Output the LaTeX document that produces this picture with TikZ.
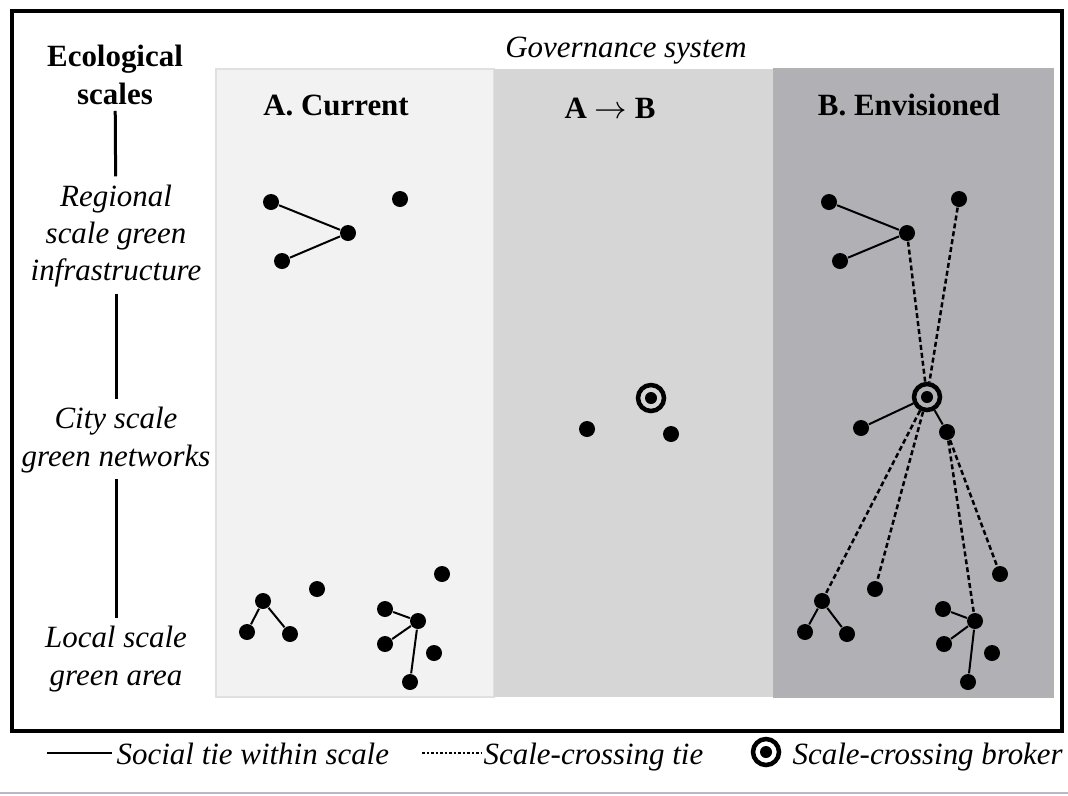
\documentclass[tikz,border=0pt]{standalone}
\usepackage{fontspec}
\setmainfont{Liberation Serif}
\usetikzlibrary{math}
\definecolor{paneA}{HTML}{F2F2F2}
\definecolor{paneAB}{HTML}{D6D6D6}
\definecolor{paneB}{HTML}{B1B1B5}
\definecolor{rulegray}{HTML}{B8B8CC}
\tikzset{
  actor/.style={circle, fill=black, inner sep=0pt, minimum size=1.6mm},
  broker/.style={circle, draw=black, line width=0.45mm, inner sep=0pt, minimum size=2.6mm,
    path picture={\fill[black] (path picture bounding box.center) circle (0.6mm);}},
  tie/.style={line width=0.2mm},
  crosstie/.style={line width=0.25mm, dash pattern=on 0.5mm off 0.3mm},
  scaletitle/.style={font=\fontsize{8.8pt}{10.6pt}\selectfont\bfseries, align=center},
  scalelabel/.style={font=\fontsize{8.8pt}{10.6pt}\selectfont\itshape, align=center},
  scaleline/.style={line width=0.3mm, shorten <=-0.6mm, shorten >=-0.4mm},
  paneltitle/.style={font=\fontsize{8.8pt}{10.6pt}\selectfont\bfseries, anchor=base},
  legendtext/.style={font=\fontsize{8.8pt}{11pt}\selectfont\itshape, anchor=base west, inner sep=0pt}
}
\begin{document}
\begin{tikzpicture}[x=0.1mm, y=-0.1mm]
  \tikzmath{\xa = 216; \xb = 494; \xc = 774; \xd = 1053; \ya = 69; \yb = 697;}
  \useasboundingbox (0,0) rectangle (1068,795);
  \fill[white] (0,0) rectangle (1068,795);
  \path[fill=paneA, draw=black!12] (\xa,\ya) rectangle (\xb,\yb);
  \path[fill=paneAB] (\xb,\ya) rectangle (\xc,\yb);
  \path[fill=paneB, draw=black!30, line width=0.12mm] (\xc,\ya) rectangle (\xd,\yb);
  \draw[line width=0.45mm] (12,11) rectangle (1062,731);

  \node[scalelabel, anchor=base] (gov) at (626,57) {Governance system};
  \node[paneltitle] (tcur) at (336,115) {A. Current};
  \node[paneltitle] (tmid) at (610,118) {A $\rightarrow$ B};
  \node[paneltitle] (tenv) at (909,115) {B. Envisioned};

  \node[scaletitle] (eco) at (115,75) {Ecological\\scales};
  \node[scalelabel] (regional) at (116,236) {Regional\\scale green\\infrastructure};
  \node[scalelabel] (city) at (116,440) {City scale\\green networks};
  \node[scalelabel] (local) at (116,659) {Local scale\\green area};
  \draw[scaleline] (eco) -- (regional);
  \draw[scaleline] (regional) -- (city);
  \draw[scaleline] (city) -- (local);

  \node[actor] (ar1) at (271,202) {};
  \node[actor] (ar2) at (348,233) {};
  \node[actor] (ar3) at (282,261) {};
  \node[actor] (ar4) at (400,199) {};
  \node[actor] (al1) at (263,601) {};
  \node[actor] (al2) at (247,632) {};
  \node[actor] (al3) at (290,634) {};
  \node[actor] (al4) at (317,589) {};
  \node[actor] (al5) at (442,574) {};
  \node[actor] (al6) at (385,609) {};
  \node[actor] (al7) at (418,621) {};
  \node[actor] (al8) at (385,644) {};
  \node[actor] (al9) at (434,653) {};
  \node[actor] (al10) at (410,682) {};
  \draw[tie] (ar1) -- (ar2) -- (ar3);
  \draw[tie] (al2) -- (al1) -- (al3);
  \draw[tie] (al6) -- (al7) -- (al8);
  \draw[tie] (al7) -- (al10);

  \node[broker] (mc1) at (651,398) {};
  \node[actor] (mc2) at (587,429) {};
  \node[actor] (mc3) at (671,434) {};

  \node[actor] (br1) at (829,202) {};
  \node[actor] (br2) at (907,233) {};
  \node[actor] (br3) at (840,261) {};
  \node[actor] (br4) at (959,199) {};
  \node[broker] (bc1) at (927,397) {};
  \node[actor] (bc2) at (861,428) {};
  \node[actor] (bc3) at (947,432) {};
  \node[actor] (bl1) at (822,601) {};
  \node[actor] (bl2) at (805,632) {};
  \node[actor] (bl3) at (847,634) {};
  \node[actor] (bl4) at (875,589) {};
  \node[actor] (bl5) at (1000,574) {};
  \node[actor] (bl6) at (943,609) {};
  \node[actor] (bl7) at (975,621) {};
  \node[actor] (bl8) at (944,644) {};
  \node[actor] (bl9) at (992,653) {};
  \node[actor] (bl10) at (968,682) {};
  \draw[tie] (br1) -- (br2) -- (br3);
  \draw[tie] (bc2) -- (bc1) -- (bc3);
  \draw[tie] (bl2) -- (bl1) -- (bl3);
  \draw[tie] (bl6) -- (bl7) -- (bl8);
  \draw[tie] (bl7) -- (bl10);
  \draw[crosstie] (br2) -- (bc1);
  \draw[crosstie] (br4) -- (bc1);
  \draw[crosstie] (bc1) -- (bl1);
  \draw[crosstie] (bc1) -- (bl4);
  \draw[crosstie] (bc3) -- (bl7);
  \draw[crosstie] (bc3) -- (bl5);

  \coordinate (k1) at (47,753);
  \coordinate (k2) at (112,753);
  \draw[line width=0.28mm] (k1) -- (k2);
  \node[legendtext] (ktie) at (116,764) {Social tie within scale};
  \coordinate (k3) at (422,753);
  \coordinate (k4) at (481,753);
  \draw[line width=0.2mm, dash pattern=on 0.25mm off 0.2mm] (k3) -- (k4);
  \node[legendtext] (kcross) at (483,764) {Scale-crossing tie};
  \node[broker] (kbroker) at (766,752) {};
  \node[legendtext] (kbrok) at (792,764) {Scale-crossing broker};
  \draw[line width=0.2mm, rulegray] (0,793) -- (1068,793);
\end{tikzpicture}
\end{document}
